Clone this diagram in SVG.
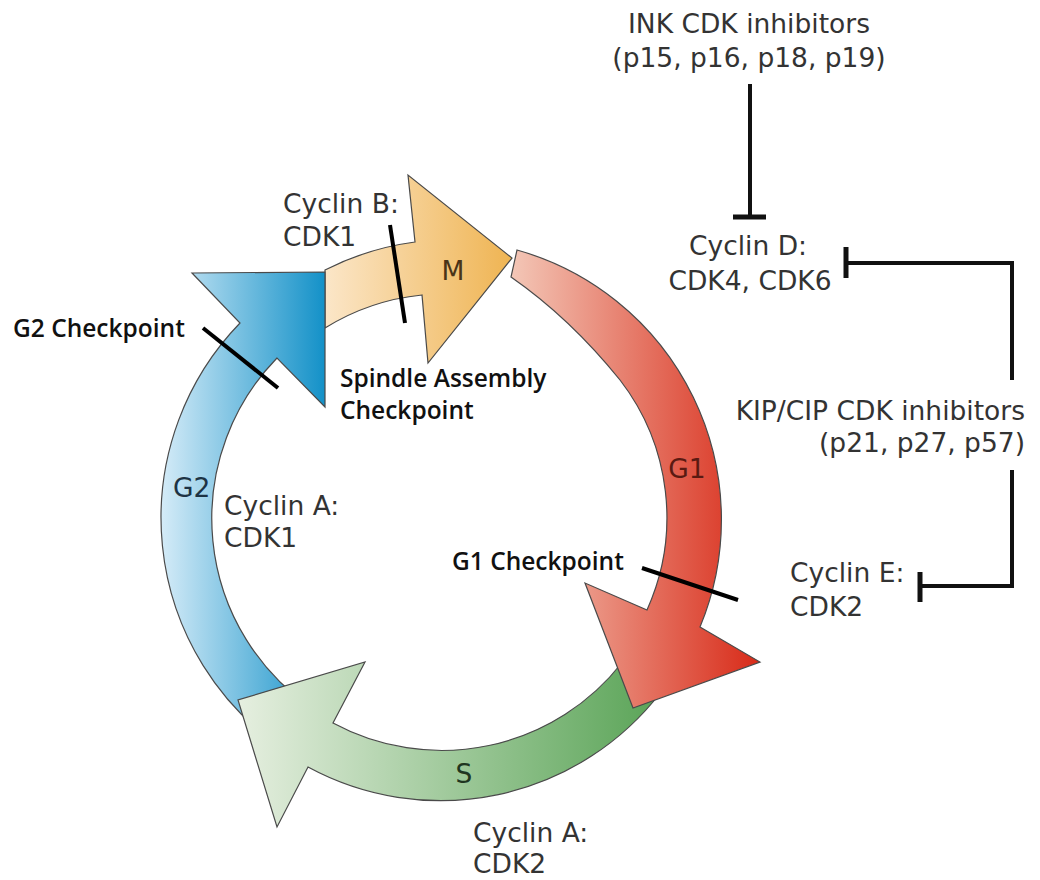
<svg xmlns="http://www.w3.org/2000/svg" width="1040" height="880" viewBox="0 0 1040 880">
<defs>
<linearGradient id="gY" gradientUnits="userSpaceOnUse" x1="325" y1="0" x2="512" y2="0"><stop offset="0" stop-color="#fbe6c8"/><stop offset="1" stop-color="#efb452"/></linearGradient>
<linearGradient id="gB" gradientUnits="userSpaceOnUse" x1="160" y1="0" x2="325" y2="0"><stop offset="0" stop-color="#d6ecf8"/><stop offset="1" stop-color="#1391c8"/></linearGradient>
<linearGradient id="gR" gradientUnits="userSpaceOnUse" x1="505" y1="0" x2="760" y2="0"><stop offset="0" stop-color="#f4cbbb"/><stop offset="1" stop-color="#d82a18"/></linearGradient>
<linearGradient id="gG" gradientUnits="userSpaceOnUse" x1="238" y1="0" x2="660" y2="0"><stop offset="0" stop-color="#e6efe0"/><stop offset="1" stop-color="#5aa457"/></linearGradient>
<style>
.seg{stroke:#4a4a4a;stroke-width:1.2;stroke-linejoin:miter}
.lab{font-family:"DejaVu Sans",sans-serif;font-size:26.5px;fill:#333}
.chk{font-family:"Open Sans","Liberation Sans",sans-serif;font-size:24.5px;font-weight:600;fill:#111}
.cp{stroke:#000;stroke-width:4;stroke-linecap:butt}
.inh{fill:none;stroke:#111;stroke-width:4}
.bar{stroke:#111;stroke-width:5}
</style>
</defs>
<rect width="1040" height="880" fill="#fff"/>
<g id="phase-M"><path class="seg" fill="url(#gY)" d="M325 270 A278 278 0 0 1 415 242 L408 175 L512 258 L428 363 L422 295 A227 227 0 0 0 325 328 Z"/></g>
<g id="phase-G2"><path class="seg" fill="url(#gB)" d="M282.5 748.7 A280 280 0 0 1 240 323 L192 273 L325 272 L325 407 L277 358 A230 230 0 0 0 311.2 707.8 Z"/></g>
<g id="phase-S"><path class="seg" fill="url(#gG)" d="M661 692 A278 278 0 0 1 308 767 L277 827 L238 700 L365 662 L333 723 A229 229 0 0 0 622.5 662 Z"/></g>
<g id="phase-G1"><path class="seg" fill="url(#gR)" d="M517 250 A280 280 0 0 1 700 627 L760 662 L633 708 L585 583 L647 610 A225 225 0 0 0 620 380 Q570 318 511 277 Z"/></g>
<g id="phase-labels">
<text class="lab" x="453" y="280" text-anchor="middle" fill="#4a3418" style="fill:#4a3418">M</text>
<text class="lab" x="687" y="478" text-anchor="middle" style="fill:#5a1a12">G1</text>
<text class="lab" x="464" y="783" text-anchor="middle" style="fill:#1f3520">S</text>
<text class="lab" x="173" y="497" style="fill:#1d3344">G2</text>
</g>
<g id="checkpoints">
<line class="cp" x1="203" y1="328" x2="278" y2="388"/>
<line class="cp" x1="390" y1="225" x2="405" y2="323"/>
<line class="cp" x1="642" y1="568" x2="738" y2="600"/>
<text class="chk" x="13" y="337">G2 Checkpoint</text>
<text class="chk" x="340" y="387">Spindle Assembly</text>
<text class="chk" x="340" y="419">Checkpoint</text>
<text class="chk" x="452" y="570">G1 Checkpoint</text>
</g>
<g id="cyclinB"><text class="lab" x="283" y="213">Cyclin B:</text><text class="lab" x="283" y="246">CDK1</text></g>
<g id="cyclinA1"><text class="lab" x="224" y="515">Cyclin A:</text><text class="lab" x="224" y="547">CDK1</text></g>
<g id="cyclinA2"><text class="lab" x="473" y="842">Cyclin A:</text><text class="lab" x="473" y="873">CDK2</text></g>
<g id="ink"><text class="lab" x="749" y="33" text-anchor="middle">INK CDK inhibitors</text><text class="lab" x="749" y="67" text-anchor="middle">(p15, p16, p18, p19)</text></g>
<g id="cyclinD"><text class="lab" x="748" y="255" text-anchor="middle">Cyclin D:</text><text class="lab" x="750" y="290" text-anchor="middle">CDK4, CDK6</text></g>
<g id="kip"><text class="lab" x="1025" y="420" text-anchor="end">KIP/CIP CDK inhibitors</text><text class="lab" x="1025" y="452" text-anchor="end">(p21, p27, p57)</text></g>
<g id="cyclinE"><text class="lab" x="790" y="582">Cyclin E:</text><text class="lab" x="790" y="616">CDK2</text></g>
<g id="connectors">
<line class="inh" x1="750" y1="84" x2="750" y2="217"/>
<line class="bar" x1="733" y1="217" x2="766" y2="217"/>
<path class="inh" d="M1012 380 V263 H846"/>
<line class="bar" x1="846" y1="247" x2="846" y2="278"/>
<path class="inh" d="M1012 470 V586 H920"/>
<line class="bar" x1="920" y1="572" x2="920" y2="602"/>
</g>
</svg>
